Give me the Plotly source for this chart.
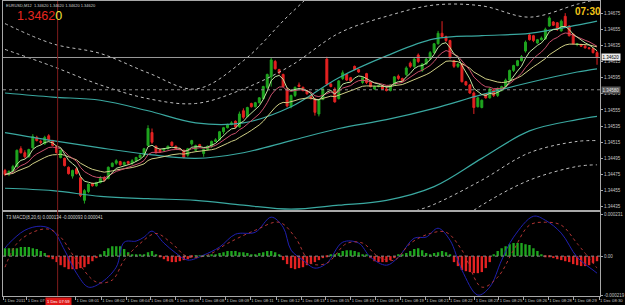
import numpy as np
import pandas as pd
import plotly.graph_objects as go

# ---------------- price data (EURUSD, 150 bars) ----------------
candle_open = [1.34480,1.34475,1.34479,1.34485,1.34507,1.34502,1.34497,1.34508,1.34521,1.34516,
1.34513,1.34523,1.34517,1.34510,1.34496,1.34495,1.34484,1.34473,1.34482,1.34471,
1.34443,1.34454,1.34464,1.34461,1.34465,1.34471,1.34470,1.34485,1.34489,1.34491,
1.34487,1.34491,1.34489,1.34492,1.34496,1.34499,1.34511,1.34527,1.34510,1.34506,
1.34505,1.34507,1.34515,1.34510,1.34507,1.34505,1.34499,1.34513,1.34505,1.34512,
1.34501,1.34506,1.34510,1.34516,1.34518,1.34528,1.34533,1.34537,1.34541,1.34534,
1.34554,1.34547,1.34563,1.34559,1.34564,1.34569,1.34583,1.34596,1.34615,1.34605,
1.34599,1.34581,1.34559,1.34573,1.34586,1.34583,1.34579,1.34573,1.34569,1.34550,
1.34568,1.34618,1.34587,1.34581,1.34569,1.34594,1.34599,1.34595,1.34609,1.34605,
1.34589,1.34600,1.34589,1.34581,1.34584,1.34585,1.34581,1.34579,1.34586,1.34597,
1.34594,1.34599,1.34613,1.34609,1.34623,1.34604,1.34612,1.34618,1.34626,1.34637,
1.34650,1.34646,1.34641,1.34616,1.34609,1.34612,1.34590,1.34586,1.34576,1.34559,
1.34558,1.34575,1.34570,1.34580,1.34573,1.34579,1.34584,1.34592,1.34604,1.34610,
1.34616,1.34628,1.34648,1.34647,1.34638,1.34642,1.34643,1.34659,1.34664,1.34663,
1.34653,1.34671,1.34659,1.34649,1.34636,1.34636,1.34634,1.34632,1.34631,1.34626]

candle_high = [1.34482,1.34480,1.34487,1.34506,1.34510,1.34505,1.34507,1.34525,1.34523,1.34518,
1.34523,1.34525,1.34518,1.34511,1.34506,1.34496,1.34485,1.34481,1.34484,1.34473,
1.34457,1.34464,1.34465,1.34466,1.34473,1.34473,1.34485,1.34490,1.34494,1.34492,
1.34491,1.34492,1.34494,1.34497,1.34500,1.34508,1.34536,1.34532,1.34511,1.34507,
1.34508,1.34511,1.34516,1.34511,1.34508,1.34506,1.34508,1.34518,1.34512,1.34513,
1.34507,1.34511,1.34517,1.34520,1.34529,1.34534,1.34538,1.34541,1.34542,1.34553,
1.34557,1.34559,1.34564,1.34565,1.34571,1.34585,1.34600,1.34620,1.34617,1.34606,
1.34600,1.34583,1.34574,1.34584,1.34589,1.34584,1.34580,1.34574,1.34570,1.34568,
1.34583,1.34621,1.34589,1.34583,1.34592,1.34604,1.34600,1.34596,1.34610,1.34606,
1.34596,1.34601,1.34590,1.34585,1.34586,1.34586,1.34583,1.34587,1.34597,1.34599,
1.34595,1.34609,1.34615,1.34620,1.34625,1.34613,1.34620,1.34628,1.34638,1.34653,
1.34665,1.34647,1.34642,1.34617,1.34613,1.34613,1.34591,1.34587,1.34578,1.34571,
1.34568,1.34576,1.34583,1.34581,1.34583,1.34585,1.34594,1.34605,1.34611,1.34617,
1.34623,1.34641,1.34649,1.34648,1.34643,1.34646,1.34657,1.34671,1.34665,1.34664,
1.34667,1.34675,1.34660,1.34650,1.34638,1.34637,1.34636,1.34633,1.34632,1.34628]

candle_low = [1.34473,1.34473,1.34478,1.34484,1.34501,1.34495,1.34496,1.34507,1.34516,1.34512,
1.34512,1.34516,1.34510,1.34501,1.34495,1.34485,1.34475,1.34470,1.34475,1.34447,
1.34439,1.34452,1.34460,1.34460,1.34464,1.34466,1.34469,1.34484,1.34487,1.34486,
1.34486,1.34487,1.34487,1.34491,1.34495,1.34497,1.34510,1.34513,1.34501,1.34502,
1.34503,1.34506,1.34510,1.34506,1.34505,1.34495,1.34497,1.34511,1.34503,1.34508,
1.34497,1.34505,1.34508,1.34515,1.34517,1.34525,1.34532,1.34536,1.34532,1.34533,
1.34544,1.34546,1.34558,1.34558,1.34563,1.34568,1.34581,1.34584,1.34605,1.34599,
1.34583,1.34558,1.34557,1.34571,1.34583,1.34578,1.34574,1.34568,1.34548,1.34547,
1.34567,1.34585,1.34583,1.34564,1.34568,1.34592,1.34591,1.34590,1.34604,1.34601,
1.34587,1.34587,1.34583,1.34580,1.34583,1.34580,1.34578,1.34578,1.34585,1.34592,
1.34590,1.34597,1.34607,1.34607,1.34613,1.34602,1.34611,1.34617,1.34625,1.34636,
1.34644,1.34639,1.34618,1.34607,1.34607,1.34589,1.34585,1.34575,1.34550,1.34558,
1.34557,1.34569,1.34569,1.34571,1.34571,1.34578,1.34583,1.34591,1.34602,1.34609,
1.34615,1.34626,1.34641,1.34639,1.34637,1.34641,1.34642,1.34658,1.34659,1.34653,
1.34652,1.34658,1.34646,1.34636,1.34634,1.34633,1.34631,1.34630,1.34625,1.34611]

candle_close = [1.34475,1.34479,1.34485,1.34505,1.34502,1.34497,1.34506,1.34522,1.34517,1.34515,
1.34521,1.34518,1.34511,1.34502,1.34505,1.34486,1.34476,1.34480,1.34476,1.34449,
1.34455,1.34463,1.34461,1.34465,1.34470,1.34468,1.34484,1.34489,1.34492,1.34487,
1.34490,1.34489,1.34492,1.34496,1.34499,1.34507,1.34532,1.34515,1.34502,1.34503,
1.34507,1.34510,1.34511,1.34507,1.34506,1.34496,1.34507,1.34517,1.34511,1.34510,
1.34506,1.34510,1.34516,1.34518,1.34528,1.34533,1.34537,1.34539,1.34534,1.34550,
1.34546,1.34558,1.34559,1.34564,1.34570,1.34584,1.34599,1.34617,1.34606,1.34601,
1.34584,1.34560,1.34573,1.34583,1.34584,1.34579,1.34575,1.34569,1.34552,1.34567,
1.34581,1.34587,1.34584,1.34565,1.34591,1.34601,1.34592,1.34591,1.34605,1.34602,
1.34595,1.34589,1.34584,1.34584,1.34585,1.34581,1.34579,1.34586,1.34596,1.34594,
1.34591,1.34607,1.34609,1.34618,1.34615,1.34612,1.34618,1.34626,1.34637,1.34650,
1.34646,1.34641,1.34620,1.34609,1.34612,1.34590,1.34586,1.34576,1.34558,1.34570,
1.34567,1.34570,1.34581,1.34573,1.34581,1.34584,1.34592,1.34604,1.34610,1.34616,
1.34621,1.34639,1.34642,1.34641,1.34642,1.34644,1.34655,1.34669,1.34660,1.34655,
1.34665,1.34659,1.34647,1.34637,1.34637,1.34634,1.34632,1.34631,1.34626,1.34620]

# ---------------- band indicator values read at sample bars ----------------
band_idx = [0, 12, 24, 36, 48, 60, 72, 84, 96, 108, 120, 132, 144, 149]
teal_upper = [1.34576,1.34571,1.34567,1.34554,1.34539,1.34539,1.34559,1.34595,1.34622,1.34643,1.34647,1.34650,1.34660,1.34665]
teal_mid = [1.34527,1.34517,1.34508,1.34500,1.34495,1.34502,1.34517,1.34532,1.34543,1.34557,1.34574,1.34589,1.34602,1.34606]
teal_lower = [1.34458,1.34455,1.34448,1.34445,1.34443,1.34437,1.34432,1.34437,1.34443,1.34460,1.34495,1.34529,1.34543,1.34547]
dot_upper_outer = [1.34662,1.34637,1.34625,1.34601,1.34581,1.34616,1.34675,1.34727,1.34764,1.34776,1.34764,1.34739,1.34727,1.34725]
dot_upper_inner = [1.34630,1.34609,1.34586,1.34569,1.34563,1.34581,1.34610,1.34650,1.34671,1.34685,1.34684,1.34670,1.34686,1.34692]
dot_lower_inner = [1.34381,1.34381,1.34374,1.34371,1.34366,1.34357,1.34350,1.34366,1.34416,1.34438,1.34468,1.34502,1.34516,1.34517]
dot_lower_outer = [1.34344,1.34344,1.34337,1.34332,1.34327,1.34320,1.34313,1.34320,1.34363,1.34396,1.34437,1.34468,1.34485,1.34487]

ma_fast_period, ma_mid_period, ma_slow_period = 5, 10, 20

# ---------------- MACD values (millionths) ----------------
hist_micro = [44,44,44,44,50,50,50,44,39,28,17,
-6,
-17,-33,-50,-61,-72,-72,-72,-66,-61,-44,-28,-11,
11,28,44,55,55,55,39,22,11,
6,6,11,22,28,11,
-6,-17,-28,-33,-33,-28,-22,-17,-6,
3,3,3,3,6,
11,17,22,28,28,28,22,22,17,11,11,17,22,28,28,22,6,
-22,-44,-66,-72,-66,-61,-50,-44,-33,-22,-11,-6,
6,11,17,28,33,33,28,22,11,6,
-11,-28,-33,-33,-33,-22,-11,
6,11,17,28,39,44,33,17,11,17,22,28,22,11,
-33,-55,-77,-83,-88,-94,-94,-88,-66,-33,
11,28,44,55,66,72,72,72,66,61,44,28,11,
-3,-6,-11,-17,-22,-28,-33,-44,-50,-55,-55,-50,-39,-28]
macd_idx = [0,1,5,9,12,15,18,21,24,28,30,33,35,37,40,43,46,50,54,58,63,67,70,72,75,78,81,85,89,92,
            96,99,103,106,109,112,115,119,122,125,128,133,136,140,144,148,149]
macd_micro = [44,70,143,165,143,33,-94,-171,-149,-61,77,83,105,138,72,17,-22,6,50,121,132,215,160,33,-22,-66,-39,77,72,-6,
              -50,-6,99,105,154,88,-77,-215,-171,-22,105,220,198,127,-6,-77,-94]
signal_idx = [0,3,7,11,14,18,23,27,30,34,38,42,46,51,56,63,69,73,77,81,86,90,94,98,102,107,111,115,120,124,128,132,136,140,144,149]
signal_micro = [-61,70,132,149,105,-22,-143,-132,-22,70,125,70,-4,6,70,143,187,105,-39,-39,70,72,-4,-22,70,125,132,33,-171,-116,33,171,187,171,70,-66]

# ---------------- labels ----------------
x_tick_idx = [-0.45, 5.5, 17.75, 24.25, 30.5, 36.5, 43, 49.25, 55.5, 61.75, 68.25, 74.5, 80.75, 87,
              93.25, 99.5, 105.75, 111.75, 118.25, 124.25, 130.5, 136.75, 143, 149.5]
x_tick_text = ["1 Dec 2011", "1 Dec 07:", "1 Dec 08:01", "1 Dec 08:02", "1 Dec 08:04", "1 Dec 08:05",
               "1 Dec 08:06", "1 Dec 08:08", "1 Dec 08:09", "1 Dec 08:11", "1 Dec 08:12", "1 Dec 08:13",
               "1 Dec 08:15", "1 Dec 08:16", "1 Dec 08:18", "1 Dec 08:19", "1 Dec 08:21", "1 Dec 08:22",
               "1 Dec 08:23", "1 Dec 08:25", "1 Dec 08:26", "1 Dec 08:28", "1 Dec 08:29", "1 Dec 08:30"]
price_ticks = [1.34675, 1.34655, 1.34635, 1.34615, 1.34595, 1.34575, 1.34555, 1.34535,
               1.34515, 1.34495, 1.34475, 1.34455, 1.34435]
current_price = 1.34620
level_price = 1.34580
separator_idx = 13.5
separator_label = "1 Dec 07:59"
macd_ticks = [0.000231, 0.0, -0.000219]
macd_tick_text = ["0.000231", "0.00", "-0.000219"]
symbol_text = "EURUSD,M12  1.34620 1.34620 1.34620 1.34620"
macd_text = "T3 MACD(8,20,6) 0.000134 -0.000093 0.000041"
clock_text = "07:30"

# ---------------- derived ----------------
idx = list(range(len(candle_close)))
cs = pd.Series(candle_close)
ma_fast = cs.ewm(span=ma_fast_period, adjust=False).mean()
ma_mid = cs.ewm(span=ma_mid_period, adjust=False).mean()
ma_slow = cs.ewm(span=ma_slow_period, adjust=False).mean()
hist = [v * 1e-6 for v in hist_micro]
macd_line = [v * 1e-6 for v in macd_micro]
signal_line = [v * 1e-6 for v in signal_micro]

FONT = "Liberation Sans"
GREEN = "#1fa51f"
RED = "#e42222"
TEAL = "#3aa8a0"
AXC = "#a8a8a8"
LBL = "#c4c4c4"

fig = go.Figure()

def band(vals, color, dash, width):
    fig.add_trace(go.Scatter(x=band_idx, y=vals, mode="lines", hoverinfo="skip",
                             line=dict(color=color, dash=dash, width=width, shape="spline", smoothing=1),
                             xaxis="x", yaxis="y", showlegend=False))

band(dot_upper_outer, "#bdbdbd", "dot", 1)
band(dot_upper_inner, "#bdbdbd", "dot", 1)
band(dot_lower_inner, "#bdbdbd", "dot", 1)
band(dot_lower_outer, "#bdbdbd", "dot", 1)
band(teal_upper, TEAL, "solid", 1.2)
band(teal_mid, TEAL, "solid", 1.2)
band(teal_lower, TEAL, "solid", 1.2)

fig.add_trace(go.Candlestick(x=idx, open=candle_open, high=candle_high, low=candle_low, close=candle_close,
                             increasing=dict(line=dict(color=GREEN, width=1), fillcolor=GREEN),
                             decreasing=dict(line=dict(color=RED, width=1), fillcolor=RED),
                             whiskerwidth=0, hoverinfo="skip", showlegend=False, xaxis="x", yaxis="y"))

for s, col in [(ma_slow, "#cfcf86"), (ma_mid, "#c9506c"), (ma_fast, "#bfe3a0")]:
    fig.add_trace(go.Scatter(x=idx, y=s, mode="lines", hoverinfo="skip",
                             line=dict(color=col, width=1), xaxis="x", yaxis="y", showlegend=False))

fig.add_trace(go.Bar(x=idx, y=hist, width=0.6, hoverinfo="skip", showlegend=False,
                     marker=dict(color=[GREEN if v >= 0 else RED for v in hist], line=dict(width=0)),
                     xaxis="x2", yaxis="y2"))
fig.add_trace(go.Scatter(x=macd_idx, y=macd_line, mode="lines", hoverinfo="skip", showlegend=False,
                         line=dict(color="#2020b0", width=1, shape="spline", smoothing=1), xaxis="x2", yaxis="y2"))
fig.add_trace(go.Scatter(x=signal_idx, y=signal_line, mode="lines", hoverinfo="skip", showlegend=False,
                         line=dict(color="#b03434", width=1, dash="dot", shape="spline", smoothing=1),
                         xaxis="x2", yaxis="y2"))

xr = [-0.5, 149.75]
axis_common = dict(showgrid=False, zeroline=False, showline=True, linecolor=AXC, linewidth=1, mirror=True)
fig.update_layout(
    width=625, height=305,
    margin=dict(l=3, r=21, t=0, b=9),
    paper_bgcolor="black", plot_bgcolor="black",
    font=dict(family=FONT, color=LBL, size=4.5),
    showlegend=False,
    xaxis=dict(domain=[0, 1], range=xr, anchor="y", showticklabels=False, ticks="",
               rangeslider=dict(visible=False), **axis_common),
    yaxis=dict(domain=[0.2905, 1], range=[1.3443065, 1.3469], side="right", anchor="x",
               tickvals=price_ticks, ticktext=["%.5f" % v for v in price_ticks],
               ticks="outside", ticklen=2, tickcolor=AXC, tickfont=dict(size=4.5, color=LBL), **axis_common),
    xaxis2=dict(domain=[0, 1], range=xr, anchor="y2", tickvals=x_tick_idx, ticktext=x_tick_text,
                ticks="outside", ticklen=3, tickcolor=AXC, ticklabelposition="outside right",
                tickangle=0, tickfont=dict(size=4.2, color=LBL), **axis_common),
    yaxis2=dict(domain=[0, 0.2838], range=[-0.00022, 0.000242], side="right", anchor="x2",
                tickvals=macd_ticks, ticktext=macd_tick_text, ticks="outside", ticklen=2, tickcolor=AXC,
                tickfont=dict(size=4.5, color=LBL), **axis_common),
)

shapes = [
    dict(type="line", xref="x domain", yref="y", x0=0, x1=1, y0=current_price, y1=current_price,
         line=dict(color="#9a9a9a", width=1)),
    dict(type="line", xref="x domain", yref="y", x0=0, x1=1, y0=level_price, y1=level_price,
         line=dict(color="#8a8a8a", width=1, dash="dot")),
    dict(type="line", xref="x2 domain", yref="y2", x0=0, x1=1, y0=0, y1=0,
         line=dict(color="#8a8a8a", width=1, dash="dot")),
    dict(type="line", xref="x", yref="paper", x0=13.25, x1=13.25, y0=0, y1=1,
         line=dict(color="#7e1c1c", width=1)),
]
fig.update_layout(shapes=shapes)

ann = [
    dict(xref="paper", yref="paper", x=0.002, y=1.0, xanchor="left", yanchor="top", showarrow=False,
         text=symbol_text, font=dict(size=4, color="#d0d0d0")),
    dict(xref="paper", yref="paper", x=0.02, y=0.978, xanchor="left", yanchor="top", showarrow=False,
         text="<span style='color:#e8271f'>1.3462</span><span style='color:#f2e23c'>0</span>",
         font=dict(size=12.5, family=FONT)),
    dict(xref="paper", yref="paper", x=1.005, y=0.99, xanchor="right", yanchor="top", showarrow=False,
         text="<b>" + clock_text + "</b>", font=dict(size=10, color="#f0c419", family=FONT)),
    dict(xref="paper", yref="paper", x=0.002, y=0.283, xanchor="left", yanchor="top", showarrow=False,
         text=macd_text, font=dict(size=4.5, color="#d0d0d0")),
    dict(xref="paper", yref="y", x=1, y=current_price, xanchor="left", yanchor="middle", showarrow=False,
         xshift=1, text="%.5f" % current_price, bgcolor="#ececec", borderpad=0.5,
         font=dict(size=4.5, color="black")),
    dict(xref="paper", yref="y", x=1, y=level_price, xanchor="left", yanchor="middle", showarrow=False,
         xshift=1, text="%.5f" % level_price, bgcolor="#5a5a5a", borderpad=0.5,
         font=dict(size=4.5, color="#e0e0e0")),
    dict(xref="x2", yref="paper", x=separator_idx, y=0, xanchor="center", yanchor="top", showarrow=False,
         yshift=-1, text=separator_label, bgcolor="#e01818", borderpad=1,
         font=dict(size=4.2, color="white")),
]
fig.update_layout(annotations=ann)

fig.write_html("out.html")
